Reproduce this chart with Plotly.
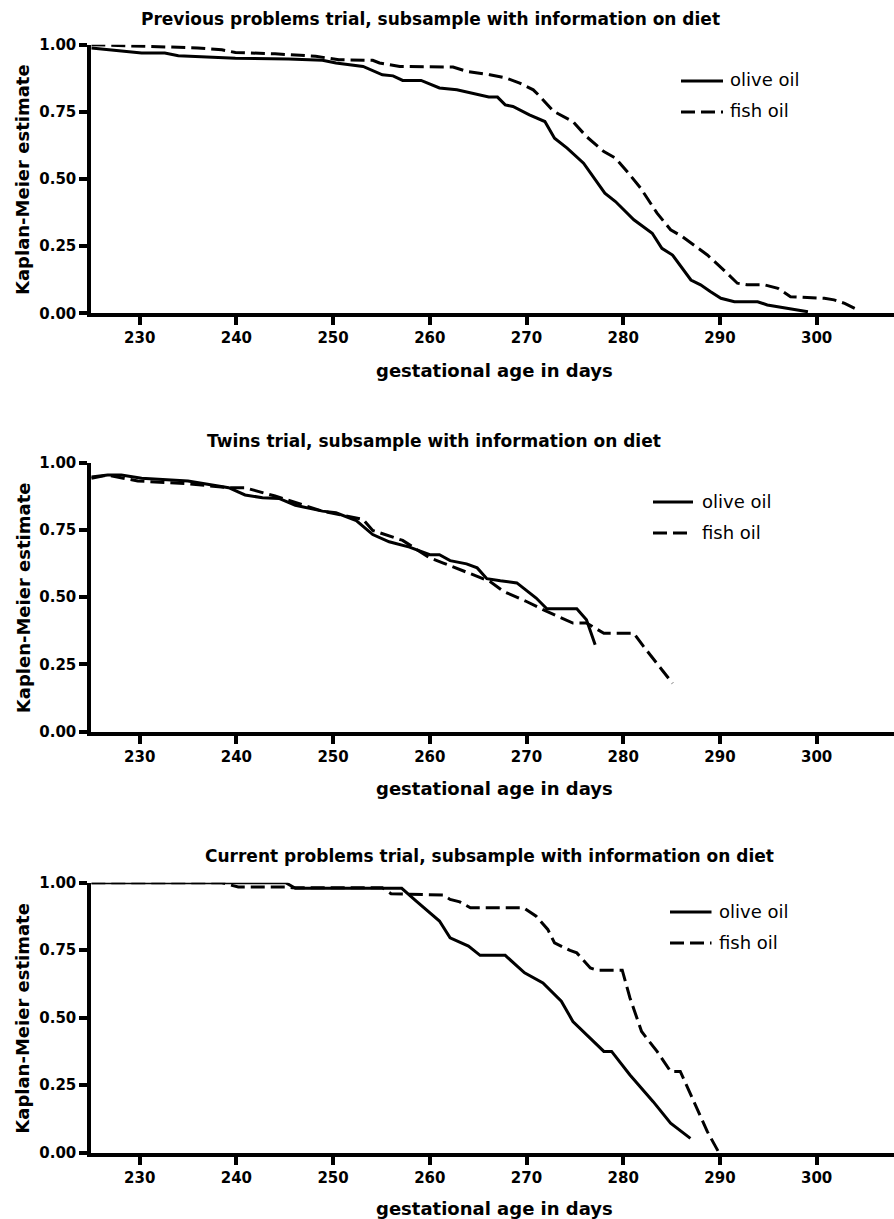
import plotly.graph_objects as go

W, H = 894, 1219

# ---------------- data ----------------
prev_olive_days = [225, 230.2, 232.6, 234, 239.9, 245.4, 248.9, 250.3, 253.1, 255.1, 256.2, 257.2, 259.1, 261, 262.8,
                   266.1, 267.0, 267.8, 268.6, 270.3, 271.9, 272.9, 274.2, 275.9, 278.1, 279.2, 281.1, 283.0, 284.0,
                   285.1, 287.0, 288.0, 289.0, 290.1, 291.5, 293.9, 294.9, 299.1]
prev_olive_km = [0.988, 0.969, 0.969, 0.959, 0.950, 0.947, 0.942, 0.932, 0.919, 0.888, 0.884, 0.867, 0.867, 0.839, 0.832,
                 0.805, 0.805, 0.776, 0.770, 0.739, 0.714, 0.652, 0.615, 0.559, 0.447, 0.416, 0.348, 0.298, 0.242,
                 0.217, 0.124, 0.106, 0.081, 0.056, 0.043, 0.043, 0.031, 0.006]
prev_fish_days = [225, 229.8, 236, 238.5, 239.9, 244, 248.2, 250.6, 254.1, 254.8, 256.9, 262.4, 263.8, 266.2, 267.9,
                  269.3, 270.7, 271.4, 272.8, 274.8, 276.2, 278.0, 279.2, 280.4, 281.8, 283.5, 284.9, 286.1, 287.6,
                  288.7, 290.4, 291.8, 292.8, 294.6, 296.0, 297.3, 300.8, 301.8, 302.9, 304.3]
prev_fish_km = [1.0, 0.994, 0.988, 0.981, 0.971, 0.966, 0.957, 0.944, 0.942, 0.932, 0.919, 0.917, 0.901, 0.888, 0.876,
                0.857, 0.832, 0.807, 0.752, 0.714, 0.658, 0.602, 0.578, 0.528, 0.466, 0.373, 0.311, 0.286, 0.248,
                0.217, 0.161, 0.112, 0.106, 0.106, 0.093, 0.062, 0.056, 0.050, 0.037, 0.012]

twins_olive_days = [225, 226.7, 228.1, 230.2, 235, 239.2, 240.9, 242.7, 244.4, 246.1, 248.9, 250.3, 252.4, 254.1,
                    255.8, 257.9, 260, 261, 262.1, 263.8, 264.9, 265.9, 267.3, 269.0, 271.0, 272.1, 275.2, 276.2, 277.1]
twins_olive_km = [0.947, 0.954, 0.954, 0.942, 0.932, 0.907, 0.880, 0.870, 0.867, 0.842, 0.820, 0.814, 0.785, 0.733,
                  0.706, 0.686, 0.658, 0.658, 0.636, 0.624, 0.609, 0.569, 0.561, 0.553, 0.497, 0.457, 0.457, 0.416, 0.323]
twins_fish_days = [225, 226.7, 229.8, 235, 239.2, 240.9, 244, 246.1, 248.9, 253.1, 254.1, 257.2, 260, 261.4, 264.5,
                   266.2, 267.6, 270.0, 272.1, 274.8, 276.2, 278.0, 281.1, 282.1, 285.1]
twins_fish_km = [0.942, 0.954, 0.932, 0.922, 0.907, 0.907, 0.876, 0.851, 0.820, 0.789, 0.748, 0.711, 0.646, 0.627, 0.584,
                 0.559, 0.522, 0.484, 0.447, 0.404, 0.404, 0.366, 0.366, 0.317, 0.180]

curr_olive_days = [225, 245.1, 246.1, 257.1, 258.6, 261.0, 262.1, 264.0, 265.2, 267.8, 269.8, 271.7, 273.6, 274.8,
                   278.0, 278.8, 280.7, 283.1, 284.9, 286.95]
curr_olive_km = [1.0, 1.0, 0.979, 0.979, 0.932, 0.858, 0.796, 0.765, 0.731, 0.731, 0.666, 0.629, 0.561, 0.486,
                 0.375, 0.375, 0.288, 0.189, 0.109, 0.053]
curr_fish_days = [225, 238.5, 240.2, 245.1, 245.8, 255.1, 256.0, 261.4, 262.1, 263.1, 264.2, 269.7, 271.0, 272.2,
                  272.9, 274.5, 275.2, 276.6, 277.3, 279.9, 280.7, 281.9, 283.5, 284.9, 285.9, 287.3, 288.7, 289.9]
curr_fish_km = [1.0, 1.0, 0.984, 0.984, 0.981, 0.981, 0.959, 0.954, 0.938, 0.929, 0.907, 0.907, 0.876, 0.827,
                0.777, 0.749, 0.740, 0.684, 0.676, 0.676, 0.573, 0.449, 0.375, 0.301, 0.301, 0.189, 0.078, 0.0]

titles = ["Previous problems trial, subsample with information on diet",
          "Twins trial, subsample with information on diet",
          "Current problems trial, subsample with information on diet"]
y_titles = ["Kaplan-Meier estimate", "Kaplen-Meier estimate", "Kaplan-Meier estimate"]
x_title = "gestational age in days"
series_names = ["olive oil", "fish oil"]
y_tickvals = [0, 0.25, 0.5, 0.75, 1.0]
x_tickvals = [230, 240, 250, 260, 270, 280, 290, 300]

panels = [
    (prev_olive_days, prev_olive_km, prev_fish_days, prev_fish_km),
    (twins_olive_days, twins_olive_km, twins_fish_days, twins_fish_km),
    (curr_olive_days, curr_olive_km, curr_fish_days, curr_fish_km),
]

# ---------------- layout geometry (pixels) ----------------
def py(v):
    return 1 - v / H

def px(v):
    return v / W

plot_top = [44.7, 462.7, 882.7]
plot_bot = [313.3, 731.7, 1152.7]
title_pos = [(430, 19), (434, 441), (489, 856)]
xtitle_y = [370, 788, 1208]
legend_geo = [  # line x0, x1, text x, olive y, fish y
    (681, 723, 728, 81, 112),
    (653, 693, 700, 502, 533),
    (670, 711.5, 716.5, 912, 943),
]

FONT = "DejaVu Sans"
fig = go.Figure()
annotations = []
shapes = []
DASH = "14px,6px"

for i, (od, ok, fd, fk) in enumerate(panels):
    n = "" if i == 0 else str(i + 1)
    fig.add_trace(go.Scatter(x=od, y=ok, mode="lines", name=series_names[0], xaxis="x" + n, yaxis="y" + n,
                             line=dict(color="black", width=3), cliponaxis=False, showlegend=False))
    fig.add_trace(go.Scatter(x=fd, y=fk, mode="lines", name=series_names[1], xaxis="x" + n, yaxis="y" + n,
                             line=dict(color="black", width=3, dash=DASH), cliponaxis=False, showlegend=False))
    ax = dict(domain=[91.3 / W, 1.0], range=[225, 308], tickvals=x_tickvals, ticks="outside", ticklen=8,
              tickwidth=3.5, tickcolor="black", showline=True, linewidth=4, linecolor="black",
              showgrid=False, zeroline=False, anchor="y" + n, automargin=False,
              tickfont=dict(family=FONT, size=15, color="black", weight="bold"))
    ay = dict(domain=[py(plot_bot[i]), py(plot_top[i])], range=[0, 1], tickvals=y_tickvals, tickformat=".2f",
              ticks="outside", ticklen=8, tickwidth=3.5, tickcolor="black", showline=True, linewidth=4,
              linecolor="black", showgrid=False, zeroline=False, anchor="x" + n, automargin=False,
              tickfont=dict(family=FONT, size=15, color="black", weight="bold"))
    fig.update_layout(**{"xaxis" + n: ax, "yaxis" + n: ay})

    tx, ty = title_pos[i]
    annotations.append(dict(text=titles[i], x=px(tx), y=py(ty), xref="paper", yref="paper", showarrow=False,
                            xanchor="center", yanchor="middle",
                            font=dict(family=FONT, size=17, color="black", weight="bold")))
    annotations.append(dict(text=x_title, x=px(494), y=py(xtitle_y[i]), xref="paper", yref="paper",
                            showarrow=False, xanchor="center", yanchor="middle",
                            font=dict(family=FONT, size=18, color="black", weight="bold")))
    annotations.append(dict(text=y_titles[i], x=px(23), y=py((plot_top[i] + plot_bot[i]) / 2 + 1), xref="paper",
                            yref="paper", showarrow=False, xanchor="center", yanchor="middle", textangle=-90,
                            font=dict(family=FONT, size=18, color="black", weight="bold")))
    lx0, lx1, ltx, oy, fy = legend_geo[i]
    for name, yy, dash in [(series_names[0], oy, "solid"), (series_names[1], fy, DASH)]:
        shapes.append(dict(type="line", xref="paper", yref="paper", x0=px(lx0), x1=px(lx1), y0=py(yy), y1=py(yy),
                           line=dict(color="black", width=3, dash=dash)))
        annotations.append(dict(text=name, x=px(ltx), y=py(yy - 1), xref="paper", yref="paper", showarrow=False,
                                xanchor="left", yanchor="middle",
                                font=dict(family=FONT, size=18, color="black")))

fig.update_layout(width=W, height=H, margin=dict(l=0, r=0, t=0, b=0, autoexpand=False), paper_bgcolor="white",
                  plot_bgcolor="white", annotations=annotations, shapes=shapes, showlegend=False)
fig.write_html(
    "out.html",
    config={"displayModeBar": False},
    post_script=("var s=document.createElement('style');"
                 "s.textContent='html,body{margin:0!important;padding:0!important;overflow:hidden!important;}';"
                 "document.head.appendChild(s);"),
)
